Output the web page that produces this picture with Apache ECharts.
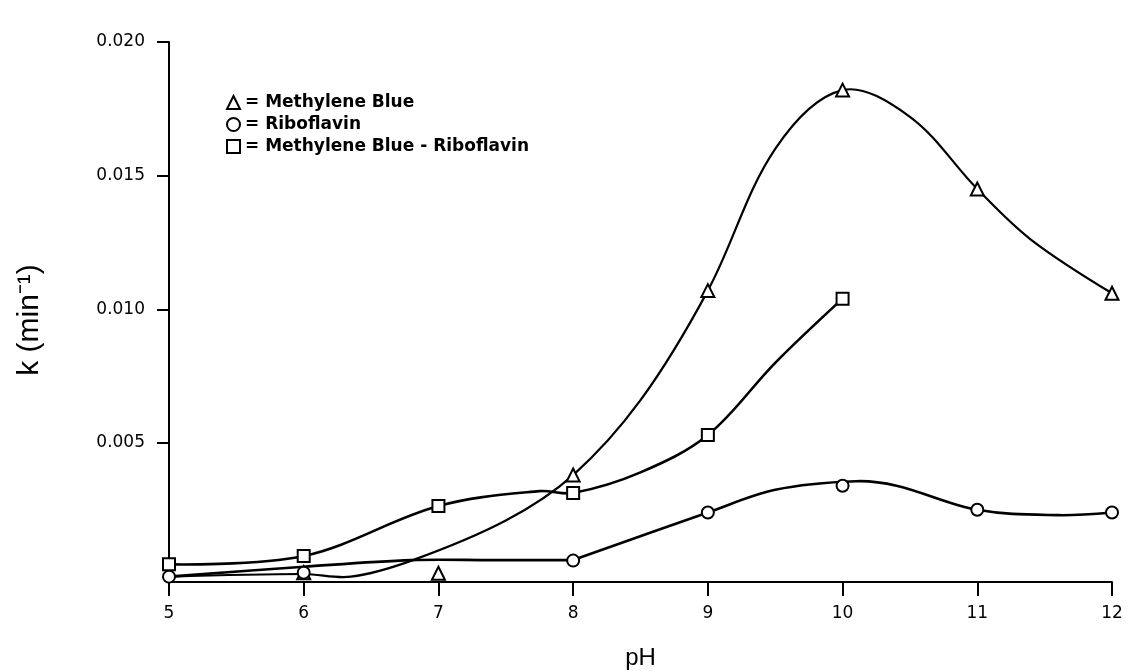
<!DOCTYPE html>
<html>
<head>
<meta charset="utf-8">
<script src="https://cdn.jsdelivr.net/npm/echarts@6/dist/echarts.min.js"></script>
<style>
  html, body { margin: 0; padding: 0; background: #fff; }
  #chart { width: 1127px; height: 671px; }
</style>
</head>
<body>
<div id="chart"></div>
<script>
// Rate constant k (min^-1) versus pH for three photosensitiser systems.
const seriesNames = ['Methylene Blue', 'Riboflavin', 'Methylene Blue - Riboflavin'];
const xTicks = [5, 6, 7, 8, 9, 10, 11, 12];
const yTicks = [0.005, 0.010, 0.015, 0.020];

// Measured points [pH, k]
const mbPoints = [[6, 0.00015], [7, 0.00013], [8, 0.0038], [9, 0.0107], [10, 0.0182], [11, 0.0145], [12, 0.0106]];
const ribPoints = [[5, 0.0000], [6, 0.00015], [8, 0.0006], [9, 0.0024], [10, 0.0034], [11, 0.0025], [12, 0.0024]];
const mbrPoints = [[5, 0.00046], [6, 0.00077], [7, 0.00264], [8, 0.00313], [9, 0.0053], [10, 0.0104]];

// Hand-fitted trend curves [pH, k]
const mbCurve = [[5, 0.0000], [6, 0.0001], [6.35, 0.0000], [6.8, 0.0006], [7.5, 0.0021], [8, 0.0038], [8.5, 0.0066], [9, 0.0107], [9.5, 0.0160], [10, 0.0182], [10.5, 0.0172], [11, 0.0145], [11.4, 0.0126], [12, 0.0106]];
const ribCurveLow = [[5, 0.0000], [6, 0.00037], [6.8, 0.00062], [7.4, 0.00062], [8, 0.00062]];
const ribCurveHigh = [[8, 0.00062], [9, 0.0024], [9.5, 0.00325], [10.1, 0.00357], [10.4, 0.0034], [11, 0.0025], [11.6, 0.0023], [12, 0.0024]];
const mbrCurve = [[5, 0.00046], [6, 0.00077], [7, 0.00264], [7.75, 0.0032], [8, 0.00313], [8.5, 0.0039], [9, 0.0053], [9.5, 0.0080], [10, 0.0104]];

const ink = '#000';
const font = 'DejaVu Sans';

const chart = echarts.init(document.getElementById('chart'), null, { renderer: 'canvas' });

// Smooth trend curve drawn as one spline through its anchor points (mapped by the axes)
function curve(data, width) {
  return {
    type: 'custom', data: data, clip: false, silent: true, z: 2,
    encode: { x: 0, y: 1 },
    renderItem: function (params, api) {
      if (params.dataIndex !== 0) return null;
      const pts = data.map(p => api.coord(p));
      return {
        type: 'polyline',
        shape: { points: pts, smooth: 0.35 },
        style: { stroke: ink, lineWidth: width, fill: null, lineJoin: 'round', lineCap: 'round' }
      };
    }
  };
}
function points(name, data, symbol, size) {
  return {
    name: name, type: 'scatter', data: data, symbol: symbol, symbolSize: size,
    itemStyle: { color: '#fff', borderColor: ink, borderWidth: 2, opacity: 1 }, z: 5
  };
}

chart.setOption({
  backgroundColor: '#fff',
  animation: false,
  grid: { left: 169, right: 15, top: 42, bottom: 89, outerBoundsMode: 'none' },
  legend: {
    orient: 'vertical', left: 221, top: 89, itemGap: 5,
    itemWidth: 13, itemHeight: 13,
    data: seriesNames,
    formatter: n => '= ' + n,
    textStyle: { fontFamily: font, fontSize: 17, fontWeight: 'bold', color: ink }
  },
  xAxis: {
    type: 'value', min: 5, max: 12, interval: 1,
    name: 'pH', nameLocation: 'middle', nameGap: 64,
    nameTextStyle: { fontFamily: 'Liberation Sans', fontSize: 24, color: ink },
    axisLine: { show: true, onZero: false, lineStyle: { color: ink, width: 2 } },
    axisTick: { show: true, length: 14, lineStyle: { color: ink, width: 2 } },
    axisLabel: { margin: 23, fontFamily: font, fontSize: 17, color: ink, formatter: v => xTicks.includes(v) ? String(v) : '' },
    splitLine: { show: false }
  },
  yAxis: {
    type: 'value', min: -0.0002, max: 0.020,
    name: 'k (min⁻¹)', nameLocation: 'middle', nameRotate: 90, nameGap: 124,
    nameTextStyle: { fontFamily: 'Liberation Sans', fontSize: 30, color: ink, padding: [0, 16, 0, 0] },
    axisLine: { show: true, onZero: false, lineStyle: { color: ink, width: 2 } },
    axisTick: { show: true, length: 12, customValues: yTicks, lineStyle: { color: ink, width: 2 } },
    axisLabel: { margin: 24, customValues: yTicks, fontFamily: font, fontSize: 17, color: ink, formatter: v => v.toFixed(3) },
    splitLine: { show: false }
  },
  series: [
    curve(mbCurve, 2.2),
    curve(ribCurveLow, 2.6),
    curve(ribCurveHigh, 2.6),
    curve(mbrCurve, 2.6),
    points(seriesNames[0], mbPoints, 'triangle', 13),
    points(seriesNames[1], ribPoints, 'circle', 12),
    points(seriesNames[2], mbrPoints, 'rect', 12)
  ]
});
</script>
</body>
</html>
